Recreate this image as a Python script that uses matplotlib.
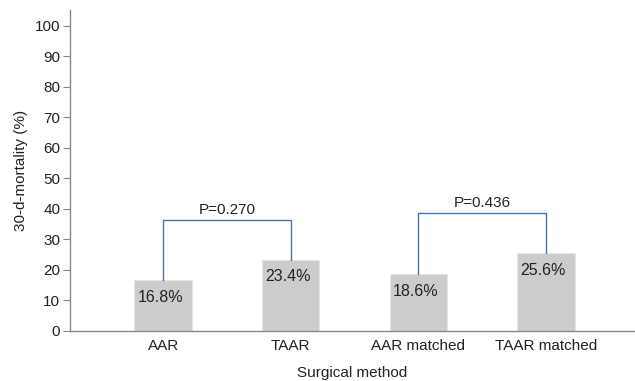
import matplotlib
matplotlib.use("Agg")
import matplotlib.pyplot as plt

categories = ["AAR", "TAAR", "AAR matched", "TAAR matched"]
mortality = [16.8, 23.4, 18.6, 25.6]
value_labels = ["16.8%", "23.4%", "18.6%", "25.6%"]
comparisons = [(0, 1), (2, 3)]
p_labels = ["P=0.270", "P=0.436"]
bracket_heights = [36.5, 38.6]
yticks = list(range(0, 101, 10))

plt.rcParams['font.family'] = ['Liberation Sans', 'DejaVu Sans']

fig = plt.figure(figsize=(6.35, 3.81), dpi=100)
ax = fig.add_axes([70/635, 50/381, 564/635, 321/381])

x = list(range(len(categories)))
bw = 0.45
ax.bar(x, mortality, width=bw, color="#cccccc", edgecolor="#e6e6e6", linewidth=0.8, zorder=2)

for xi, v, lab in zip(x, mortality, value_labels):
    ax.text(xi - bw/2 + 0.025, v - 3.2, lab, ha="left", va="top", fontsize=11.5, color="#222222", zorder=3)

blue = "#4a74b9"
for (a, b), h, p in zip(comparisons, bracket_heights, p_labels):
    ax.plot([a, a, b, b], [mortality[a], h, h, mortality[b]], color=blue, lw=1.0, zorder=3)
    ax.text((a + b) / 2, h + 1.0, p, ha="center", va="bottom", fontsize=11, color="#222222")

ax.set_xlim(-0.73, 3.69)
ax.set_ylim(0, 105.2)
ax.set_yticks(yticks)
ax.set_xticks(x)
ax.set_xticklabels(categories)
ax.tick_params(axis="y", length=5, width=0.8, color="#888888", labelsize=11, labelcolor="#222222", pad=2)
ax.tick_params(axis="x", length=0, labelsize=11, labelcolor="#222222", pad=6)

for s in ["top", "right"]:
    ax.spines[s].set_visible(False)
for s in ["left", "bottom"]:
    ax.spines[s].set_color("#888888")
    ax.spines[s].set_linewidth(1.0)

ax.set_ylabel("30-d-mortality (%)", fontsize=11, color="#222222", labelpad=5)
ax.set_xlabel("Surgical method", fontsize=11, color="#222222", labelpad=9)

fig.savefig("out.png", dpi=100)
